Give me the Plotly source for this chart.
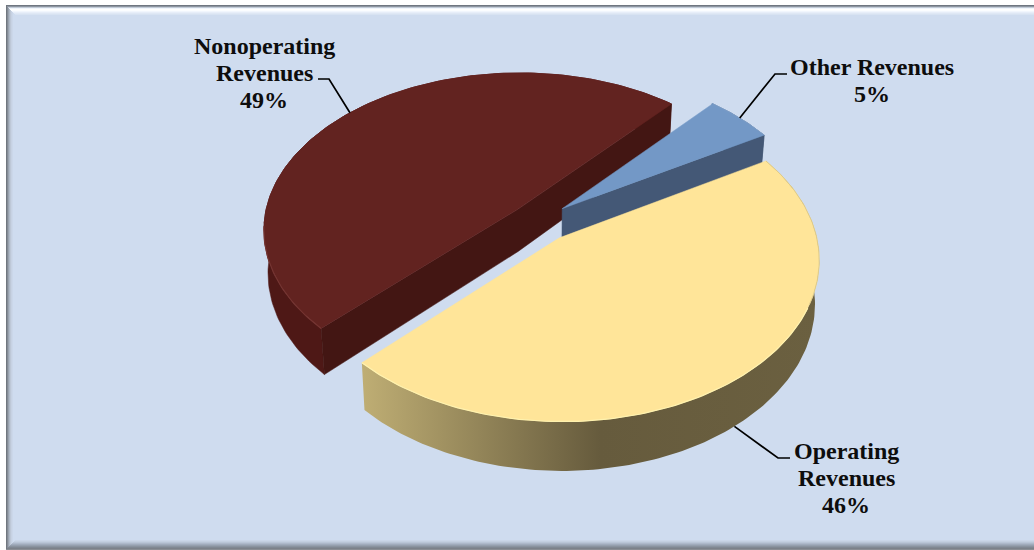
import numpy as np
import plotly.graph_objects as go

# Revenue shares
categories = ["Other Revenues", "Operating Revenues", "Nonoperating Revenues"]
shares = [5, 46, 49]
label_lines = {
    "Other Revenues": ["Other Revenues", "5%"],
    "Operating Revenues": ["Operating", "Revenues", "46%"],
    "Nonoperating Revenues": ["Nonoperating", "Revenues", "49%"],
}

# Slice colours: top face, side walls, lit front rim and shaded back rim
top_colors = {"Other Revenues": "#7398c6", "Operating Revenues": "#ffe599", "Nonoperating Revenues": "#622320"}
cut_colors = {"Other Revenues": "#445876", "Operating Revenues": "#665b3d", "Nonoperating Revenues": "#431613"}
rim_colors = {"Other Revenues": "#7f9fc8", "Operating Revenues": "#fff2ae", "Nonoperating Revenues": "#743431"}
back_rim_colors = {"Other Revenues": "#7f9fc8", "Operating Revenues": "#dcc98a", "Nonoperating Revenues": "#622320"}
rim_cutoff = {"Other Revenues": -0.4, "Operating Revenues": -0.4, "Nonoperating Revenues": -0.1}

# Pie projection parameters
START_DEG = 41.3
CX, CY = 538.0, 221.0
RADIUS = 254.0
SQUASH = 0.615
PERSP = 0.125
DEPTH = 42.5
BASE_SHRINK = 0.985
EXPLODE = {"Other Revenues": 0.125, "Operating Revenues": 0.135, "Nonoperating Revenues": 0.11}

BG = "#cfdcef"
FONT = "Liberation Serif"


def project(u, v, lower=False):
    """Map disc coordinates (v pointing away from the viewer) onto the page."""
    den = 1 + PERSP * np.asarray(v, dtype=float)
    x = RADIUS * np.asarray(u, dtype=float) / den
    y = -RADIUS * SQUASH * np.asarray(v, dtype=float) / den
    if lower:
        return CX + BASE_SHRINK * x, CY + y + DEPTH / den
    return CX + x, CY + y


def disc_point(theta, offset, radius=1.0):
    t = np.radians(theta)
    return offset[0] + radius * np.sin(t), offset[1] + radius * np.cos(t)


def polygon(xs, ys, color, **kw):
    return go.Scatter(x=xs, y=ys, mode="lines", fill="toself", fillcolor=color,
                      line=dict(width=0.5, color=color), hoverinfo="skip",
                      showlegend=False, **kw)


# Angular extent of each slice, clockwise from twelve o'clock
spans = {}
angle = START_DEG
for name, share in zip(categories, shares):
    spans[name] = (angle, angle + share * 3.6)
    angle += share * 3.6

fig = go.Figure()

# Back-to-front painting order
for name in ["Nonoperating Revenues", "Other Revenues", "Operating Revenues"]:
    a, b = spans[name]
    mid = np.radians((a + b) / 2)
    off = (EXPLODE[name] * np.sin(mid), EXPLODE[name] * np.cos(mid))
    thetas = np.linspace(a, b, 160)
    ru, rv = disc_point(thetas, off)

    xt, yt = project(ru, rv)
    xb, yb = project(ru, rv, lower=True)
    ax, ay = project(off[0], off[1])
    axb, ayb = project(off[0], off[1], lower=True)

    # Curved outer wall
    wall_x = np.concatenate([xt, xb[::-1], xt[:1]])
    wall_y = np.concatenate([yt, yb[::-1], yt[:1]])
    if name == "Operating Revenues":
        split = (600 - wall_x.min()) / (wall_x.max() - wall_x.min())
        fig.add_trace(go.Scatter(
            x=wall_x, y=wall_y, mode="lines", fill="toself",
            fillgradient=dict(type="horizontal",
                              colorscale=[[0, "#bfae74"], [split, "#665b3d"], [1, "#6b6040"]]),
            line=dict(width=0), hoverinfo="skip", showlegend=False))
    elif name == "Nonoperating Revenues":
        fig.add_trace(polygon(wall_x, wall_y, "#4e1816"))
    else:
        fig.add_trace(polygon(wall_x, wall_y, cut_colors[name]))

    # Cut faces that stay in view: both ends of the large slice, the trailing end of the small one
    if name == "Nonoperating Revenues":
        fig.add_trace(polygon([xt[0], ax, xt[-1], xb[-1], axb, xb[0], xt[0]],
                              [yt[0], ay, yt[-1], yb[-1], ayb, yb[0], yt[0]],
                              cut_colors[name]))
    elif name == "Other Revenues":
        fig.add_trace(polygon([ax, xt[-1], xb[-1], axb, ax],
                              [ay, yt[-1], yb[-1], ayb, ay],
                              cut_colors[name]))

    # Top face
    fig.add_trace(polygon(np.concatenate([[ax], xt, [ax]]), np.concatenate([[ay], yt, [ay]]),
                          top_colors[name]))

    # Rim highlight along the near edge, a quieter edge along the far side
    near = (rv - off[1]) < rim_cutoff[name]
    fig.add_trace(go.Scatter(x=xt[~near], y=yt[~near], mode="lines",
                             line=dict(width=0.9, color=back_rim_colors[name]),
                             hoverinfo="skip", showlegend=False))
    fig.add_trace(go.Scatter(x=xt[near], y=yt[near], mode="lines",
                             line=dict(width=1.2, color=rim_colors[name]),
                             hoverinfo="skip", showlegend=False))

    # Leader line from the slice's mid-angle to its label elbow
    mu, mv = disc_point((a + b) / 2, off)
    if name == "Operating Revenues":
        px, py = project(mu, mv, lower=True)
        lx, ly = [px, 778, 790], [py, 458, 458]
    elif name == "Other Revenues":
        px, py = project(mu, mv)
        lx, ly = [px, 775, 787], [py, 74, 74]
    else:
        px, py = project(mu, mv)
        lx, ly = [px, 329, 318], [py, 79, 79]
    fig.add_trace(go.Scatter(x=lx, y=ly, mode="lines", line=dict(width=1.7, color="#000000"),
                             hoverinfo="skip", showlegend=False))

# Data labels, laid out line by line for a tight 27 px leading
label_pos = {
    "Nonoperating Revenues": (264, 46),
    "Other Revenues": (872, 67),
    "Operating Revenues": (846, 451),
}
for name, (lx, ly) in label_pos.items():
    for i, line in enumerate(label_lines[name]):
        fig.add_annotation(x=lx, y=ly + 27 * i, text=f"<b>{line}</b>", showarrow=False,
                           font=dict(family=FONT, size=24, color="#0d0d0d"), align="center",
                           xanchor="center", yanchor="middle")

# Bevelled chart frame, one pixel row or column at a time
W, H = 1034, 550
shapes = [
    dict(type="rect", x0=6, x1=W, y0=5, y1=H, fillcolor=BG, line_width=0, layer="below"),
]
top_rows = ["#6f7680", "#8d95a0", "#c3ccd8", "#f0f5fb", "#ffffff", "#fbfdff", "#f1f6fd",
            "#e7eef9", "#dfe8f5", "#d8e3f2"]
left_cols = ["#71777f", "#858c96", "#9aa3af", "#aeb8c6", "#bec8d7", "#c7d2e3", "#cbd7e9"]
bottom_rows = ["#cad6e8", "#c3cfe0", "#b9c5d6", "#adb8c9", "#a0abbb", "#959fad", "#8a939f",
               "#808892", "#7c8189", "#8a8e94"]
for i, c in enumerate(left_cols):
    shapes.append(dict(type="rect", x0=6 + i, x1=7 + i, y0=5 + i, y1=H - 1 - i,
                       fillcolor=c, line_width=0, layer="below"))
for i, c in enumerate(top_rows):
    shapes.append(dict(type="rect", x0=6 + i, x1=W, y0=5 + i, y1=6 + i,
                       fillcolor=c, line_width=0, layer="below"))
for i, c in enumerate(bottom_rows):
    y = H - len(bottom_rows) + i
    shapes.append(dict(type="rect", x0=6 + (len(bottom_rows) - 1 - i), x1=W, y0=y, y1=y + 1,
                       fillcolor=c, line_width=0, layer="below"))

fig.update_layout(
    width=W, height=H, margin=dict(l=0, r=0, t=0, b=0),
    paper_bgcolor="#ffffff", plot_bgcolor="rgba(0,0,0,0)",
    xaxis=dict(range=[0, W], visible=False, fixedrange=True),
    yaxis=dict(range=[H, 0], visible=False, fixedrange=True),
    shapes=shapes, showlegend=False,
)

fig.write_html("out.html", config={"displayModeBar": False})
